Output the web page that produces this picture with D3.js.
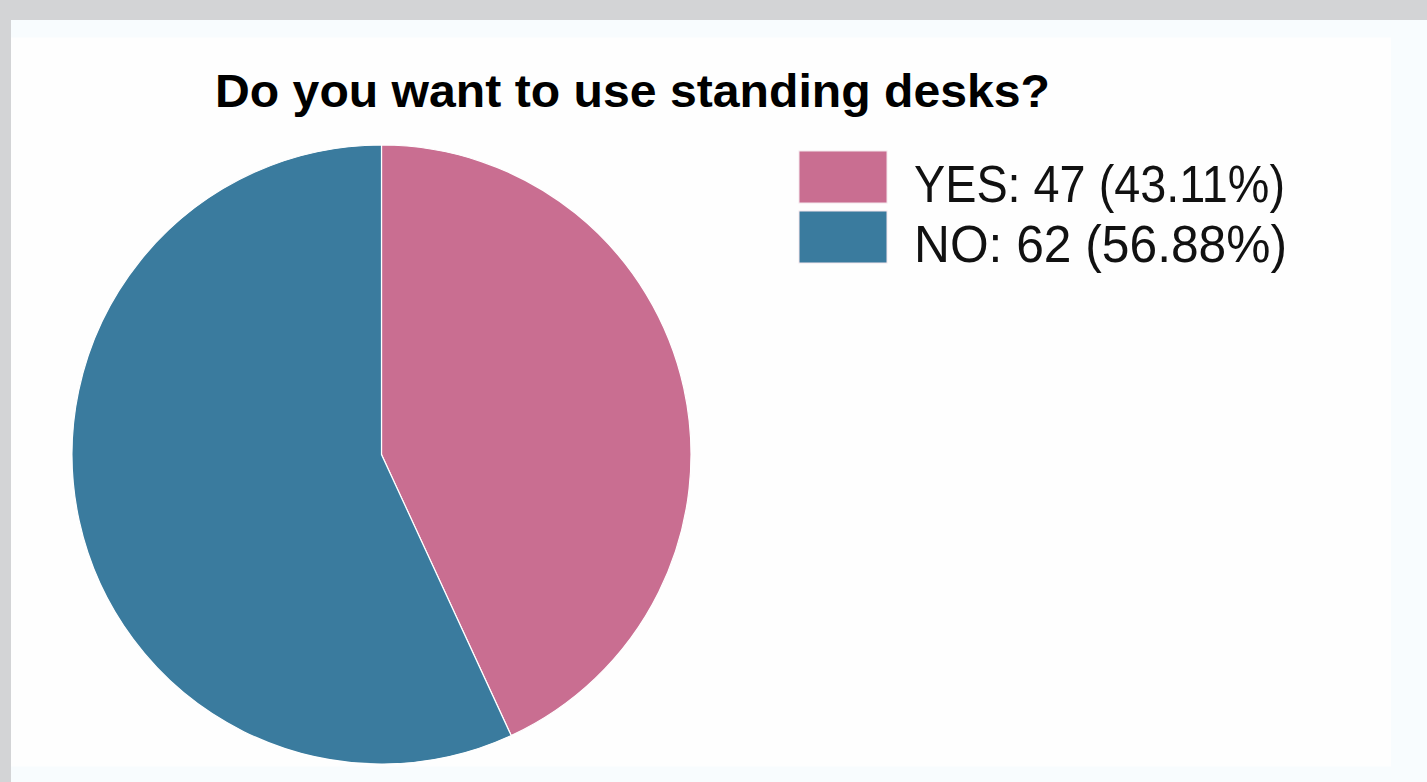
<!DOCTYPE html>
<html>
<head>
<meta charset="utf-8">
<script src="https://cdn.jsdelivr.net/npm/d3@7"></script>
<style>
  html, body { margin: 0; padding: 0; background: #d3d4d6; }
  svg { display: block; }
</style>
</head>
<body>
<div id="chart"></div>
<script>
const labels = ["YES", "NO"]; // answers
const values = [47, 62]; // responses
const colors = ["#c96e91", "#3a7b9e"];
const title = "Do you want to use standing desks?";

const width = 1427;
const height = 782;
const cx = 381.5, cy = 454.5; // pie centre
const radius = 309.5;

const svg = d3.select("#chart")
  .append("svg")
  .attr("width", width)
  .attr("height", height);

// backdrop panels
svg.append("rect").attr("x", 11).attr("y", 20).attr("width", width - 11).attr("height", height - 20).attr("fill", "#f8fcfe");
svg.append("rect").attr("x", 11).attr("y", 37.5).attr("width", 1380).attr("height", 729).attr("fill", "#fefefe");

svg.append("text")
  .attr("x", 215)
  .attr("y", 107)
  .attr("textLength", 835)
  .attr("lengthAdjust", "spacingAndGlyphs")
  .style("font-family", "'Liberation Sans', Arial, sans-serif")
  .style("font-weight", "bold")
  .style("font-size", "47px")
  .attr("fill", "#000")
  .text(title);

const data = labels.map((l, i) => ({ label: l, value: values[i] }));
const total = d3.sum(values);

const pie = d3.pie().value(d => d.value).sort(null);
const arc = d3.arc().innerRadius(0).outerRadius(radius);

svg.append("g")
  .attr("transform", `translate(${cx}, ${cy})`)
  .selectAll("path")
  .data(pie(data))
  .join("path")
  .attr("d", arc)
  .attr("fill", (d, i) => colors[i])
  .attr("stroke", "#ffffff")
  .attr("stroke-width", 1.2);

// legend
const pct = v => (Math.floor(v / total * 10000) / 100).toFixed(2);
const legend = svg.append("g").attr("transform", "translate(799, 151)");
const rows = legend.selectAll("g")
  .data(data)
  .join("g")
  .attr("transform", (d, i) => `translate(0, ${i * 60})`);

rows.append("rect")
  .attr("width", 88)
  .attr("height", 52)
  .attr("fill", (d, i) => colors[i])
  .attr("stroke", "#f3e6ec")
  .attr("stroke-width", 1);

rows.append("text")
  .attr("x", 115)
  .attr("y", 51)
  .attr("textLength", (d, i) => i === 0 ? 371 : 373)
  .attr("lengthAdjust", "spacingAndGlyphs")
  .style("font-family", "'Liberation Sans', Arial, sans-serif")
  .style("font-size", "52px")
  .attr("fill", "#111")
  .text(d => `${d.label}: ${d.value} (${pct(d.value)}%)`);
</script>
</body>
</html>
